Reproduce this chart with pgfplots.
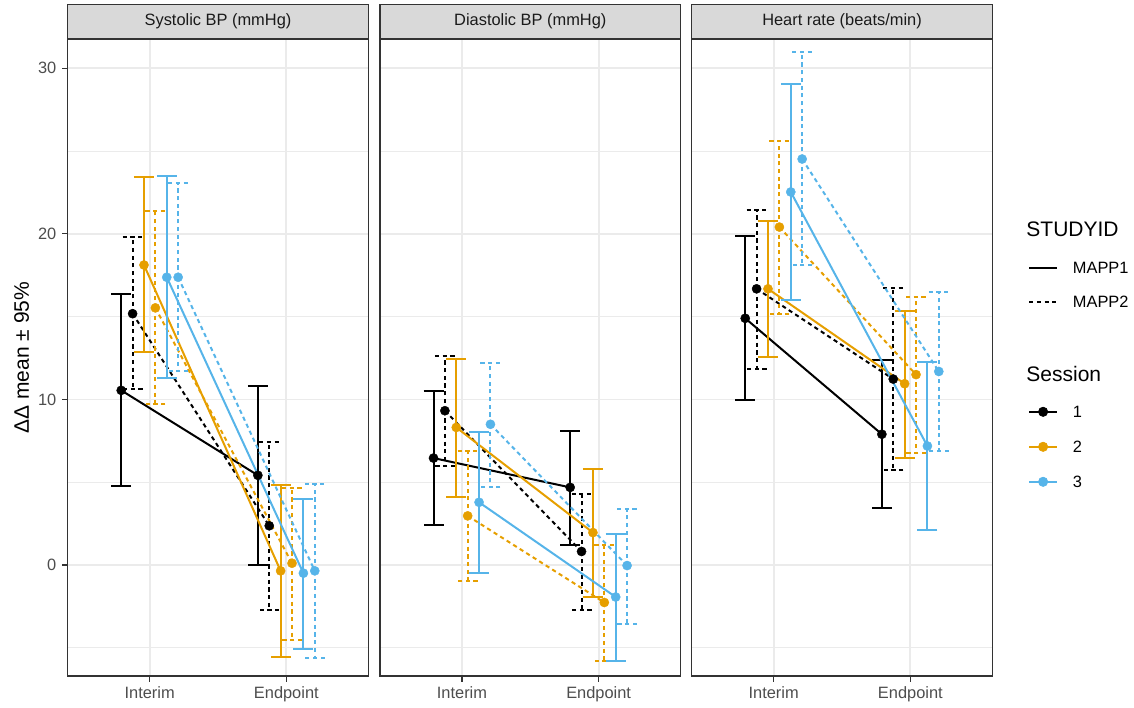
\documentclass[border=0pt]{standalone}
\usepackage{fontspec}
\setmainfont{Liberation Sans}
\usepackage{pgfplots}
\usepackage{pgfplotstable}
\pgfplotsset{compat=1.18}
\definecolor{c2}{HTML}{E69F00}
\definecolor{c3}{HTML}{56B4E9}
\definecolor{gA}{HTML}{333333}
\definecolor{gB}{HTML}{4D4D4D}
\definecolor{gC}{HTML}{1A1A1A}
\definecolor{gS}{HTML}{D9D9D9}
\definecolor{gG}{HTML}{EBEBEB}
\tikzset{mapp1/.style={solid}, mapp2/.style={dash pattern=on 2.1pt off 1.75pt}}

% groups: 1=S1 MAPP1, 2=S1 MAPP2, 3=S2 MAPP1, 4=S2 MAPP2, 5=S3 MAPP1, 6=S3 MAPP2
\pgfplotstableread{
t y1 l1 h1 y2 l2 h2 y3 l3 h3 y4 l4 h4 y5 l5 h5 y6 l6 h6
1 10.55 4.77 16.35 15.18 10.63 19.81 18.12 12.86 23.43 15.53 9.73 21.39 17.38 11.28 23.49 17.38 11.72 23.05
2 5.42 0.00 10.84 2.37 -2.72 7.41 -0.35 -5.53 4.82 0.11 -4.52 4.63 -0.49 -5.04 4.00 -0.35 -5.59 4.88
}\sys
\pgfplotstableread{
t y1 l1 h1 y2 l2 h2 y3 l3 h3 y4 l4 h4 y5 l5 h5 y6 l6 h6
1 6.46 2.43 10.49 9.32 5.99 12.64 8.31 4.09 12.45 2.97 -0.95 6.87 3.79 -0.49 8.04 8.50 4.74 12.23
2 4.69 1.20 8.09 0.82 -2.72 4.28 1.96 -1.93 5.83 -2.26 -5.80 1.23 -1.93 -5.80 1.88 -0.03 -3.54 3.41
}\dia
\pgfplotstableread{
t y1 l1 h1 y2 l2 h2 y3 l3 h3 y4 l4 h4 y5 l5 h5 y6 l6 h6
1 14.90 9.95 19.89 16.68 11.85 21.44 16.68 12.59 20.76 20.41 15.18 25.61 22.53 15.99 29.02 24.52 18.12 30.98
2 7.90 3.46 12.37 11.23 5.72 16.73 10.95 6.46 15.37 11.50 6.78 16.19 7.19 2.10 12.26 11.69 6.87 16.49
}\hr

\newcommand{\grp}[5]{%
 \addplot[draw=#4, #5, line width=1pt, mark=*, mark size=2.3pt,
   mark options={solid, fill=#4, draw=#4, line width=0.2pt},
   error bars/.cd, y dir=both, y explicit,
   error bar style={draw=#4, line width=1pt, #5},
   error mark=|, error mark options={draw=#4, line width=1pt, mark size=5pt, #5}]
 table[x expr=\thisrow{t}+#3, y=y#2,
   y error plus expr=\thisrow{h#2}-\thisrow{y#2},
   y error minus expr=\thisrow{y#2}-\thisrow{l#2}] {#1};
}
\newcommand{\allgrp}[1]{%
 \grp{#1}{1}{-0.2083}{black}{mapp1}
 \grp{#1}{2}{-0.1250}{black}{mapp2}
 \grp{#1}{3}{-0.0417}{c2}{mapp1}
 \grp{#1}{4}{0.0417}{c2}{mapp2}
 \grp{#1}{5}{0.1250}{c3}{mapp1}
 \grp{#1}{6}{0.2083}{c3}{mapp2}
}

\pgfplotsset{every axis title shift=0pt,
 panel/.style={
  scale only axis, width=150.3pt, height=318.35pt,
  xmin=0.4, xmax=2.6, ymin=-6.7, ymax=31.75,
  xtick={1,2}, xticklabels={Interim,Endpoint},
  ytick={0,10,20,30}, minor ytick={-5,5,15,25},
  xmajorgrids, ymajorgrids, yminorgrids,
  major grid style={draw=gG, line width=0.9pt},
  minor grid style={draw=gG, line width=0.45pt},
  axis line style={draw=gA, line width=0.6pt},
  tick align=outside, xtick pos=bottom, ytick pos=left,
  major tick length=2.75pt, minor tick length=0pt,
  tick style={draw=gA, line width=0.6pt},
  ticklabel style={font=\fontsize{8.2}{9.8}\selectfont, text=gB},
  /pgf/number format/assume math mode=true,
  xticklabel style={anchor=north, inner sep=0pt, yshift=-2.6pt},
  yticklabel style={anchor=east, inner sep=0pt, xshift=-2.75pt},
  title style={at={(0.5,1)}, anchor=south, fill=gS, draw=gA, line width=0.6pt,
    minimum width=150.3pt, minimum height=17.15pt, inner sep=0pt,
    font=\fontsize{8.2}{9.8}\selectfont, text=gC},
 }}

\begin{document}
\begin{tikzpicture}
\useasboundingbox (0,0) rectangle (567pt,353.5pt);

\begin{axis}[panel, at={(33.85pt,15.5pt)}, anchor=south west,
  title={Systolic BP (mmHg)},
  ylabel={ΔΔ mean ± 95\%},
  ylabel style={at={(axis description cs:-0.1534,0.5)}, anchor=center,
    font=\fontsize{10.5}{12.6}\selectfont, text=black, inner sep=0pt}]
\allgrp{\sys}
\end{axis}

\begin{axis}[panel, at={(190pt,15.5pt)}, anchor=south west,
  title={Diastolic BP (mmHg)}, yticklabels={}, ytick style={draw=none}]
\allgrp{\dia}
\end{axis}

\begin{axis}[panel, at={(345.85pt,15.5pt)}, anchor=south west,
  title={Heart rate (beats/min)}, yticklabels={}, ytick style={draw=none}]
\allgrp{\hr}
\end{axis}

% legends
\node[anchor=west, inner sep=0pt, font=\fontsize{10.5}{12.6}\selectfont] at (513pt,239pt) {STUDYID};
\node[anchor=west, inner sep=0pt, font=\fontsize{10.5}{12.6}\selectfont] at (513pt,166.5pt) {Session};

\begin{axis}[hide axis, scale only axis, width=1pt, height=1pt,
  xmin=0, xmax=1, ymin=0, ymax=1, at={(514.05pt,222.45pt)}, anchor=south west,
  legend style={at={(0,0)}, anchor=north west, draw=none, fill=none,
    inner sep=0pt, outer sep=0pt, row sep=11.1pt, column sep=7.4pt,
    nodes={inner sep=0pt, text height=5.9pt, text depth=0pt,
      font=\fontsize{8.2}{9.8}\selectfont, text=black}},
  legend cell align=left,
  legend image code/.code={\draw[#1, line width=1pt] (0pt,0pt) -- (14pt,0pt);}]
\addlegendimage{black, mapp1}
\addlegendentry{MAPP1}
\addlegendimage{black, mapp2}
\addlegendentry{MAPP2}
\end{axis}

\begin{axis}[hide axis, scale only axis, width=1pt, height=1pt,
  xmin=0, xmax=1, ymin=0, ymax=1, at={(514.05pt,150.55pt)}, anchor=south west,
  legend style={at={(0,0)}, anchor=north west, draw=none, fill=none,
    inner sep=0pt, outer sep=0pt, row sep=11.6pt, column sep=7.4pt,
    nodes={inner sep=0pt, text height=5.9pt, text depth=0pt,
      font=\fontsize{8.2}{9.8}\selectfont, text=black}},
  legend cell align=left,
  legend image code/.code={\draw[#1, solid, line width=1pt] (0pt,0pt) -- (14pt,0pt);
    \fill[#1] (7pt,0pt) circle (2.3pt);}]
\addlegendimage{black}
\addlegendentry{1}
\addlegendimage{c2}
\addlegendentry{2}
\addlegendimage{c3}
\addlegendentry{3}
\end{axis}
\end{tikzpicture}
\end{document}
